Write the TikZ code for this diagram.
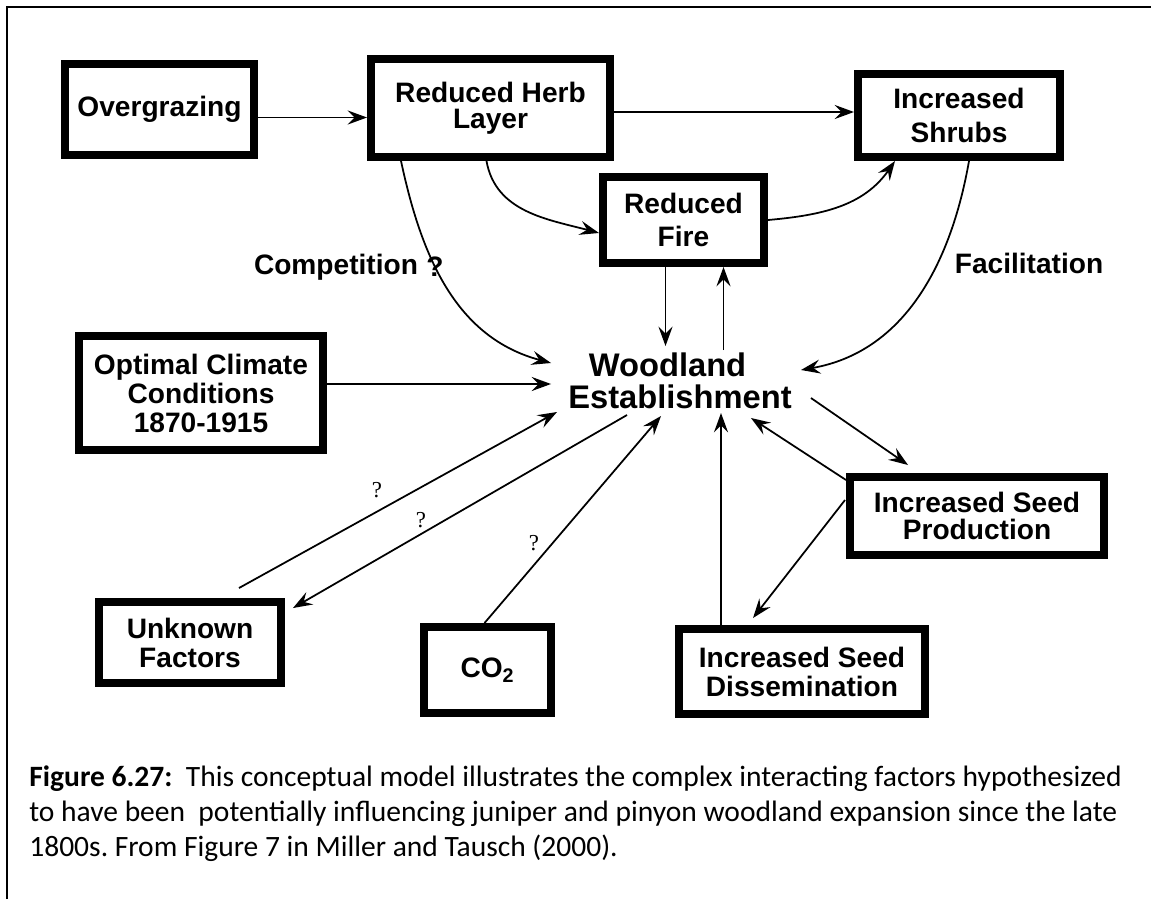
\documentclass[tikz,border=0pt]{standalone}
\usepackage{fontspec}
\setmainfont{Liberation Sans}
\newfontfamily\captionfont{Carlito}
\newfontfamily\queryfont{Liberation Serif}
\usetikzlibrary{arrows.meta,calc}

\begin{document}
\begin{tikzpicture}[
  x=0.02cm, y=0.02cm,
  factor/.style={draw, line width=0.16cm, align=center, inner sep=2pt,
    font=\bfseries\fontsize{16}{16.5}\selectfont},
  link/.style={line width=1pt, -{Stealth[length=11pt,width=8pt,inset=4pt]}},
  linklabel/.style={font=\bfseries\fontsize{16}{16.5}\selectfont},
  query/.style={font=\queryfont\fontsize{13}{13}\selectfont, inner sep=0pt},
]
\useasboundingbox (0,0) rectangle (1151,-899);

% Frame.
\draw[line width=1.2pt] (7,-899) -- (7,-7) -- (1151,-7);

% Factor boxes.
\node[factor, minimum width=3.78cm, minimum height=1.82cm] (over) at (159.5,-109.5) {Overgrazing};
\node[factor, minimum width=4.78cm, minimum height=1.96cm] (herb) at (490.5,-108) {Reduced Herb\\[-2pt]Layer};
\node[factor, minimum width=4.04cm, minimum height=1.66cm] (shrub) at (959,-115.5) {Increased\\[3pt]Shrubs};
\node[factor, minimum width=3.22cm, minimum height=1.72cm] (fire) at (683.5,-220) {Reduced\\[2pt]Fire};
\node[factor, minimum width=4.88cm, minimum height=2.28cm] (climate) at (201,-393) {Optimal Climate\\Conditions\\1870-1915};
\node[factor, minimum width=3.64cm, minimum height=1.62cm] (unknown) at (190,-642.5) {Unknown\\Factors};
\node[factor, minimum width=2.54cm, minimum height=1.72cm] (co2) at (487.5,-670) {CO\textsubscript{2}};
\node[factor, minimum width=5.08cm, minimum height=1.56cm] (seedprod) at (977,-516) {Increased Seed\\[-1.5pt]Production};
\node[factor, minimum width=4.92cm, minimum height=1.70cm] (seeddis) at (802,-671.5) {Increased Seed\\Dissemination};

% Centre of the model (no box).
\node[minimum width=5.16cm, minimum height=1.40cm, inner sep=0pt, outer sep=0pt, align=center,
  font=\bfseries\fontsize{18.6}{18.5}\selectfont] (wood) at (680,-381) {Woodland\hspace*{0.5cm}\\Establishment};

% Helper points on the box edges.
\coordinate (o1) at ($(over.east)+(0,-8)$);
\coordinate (h1) at ($(herb.east)+(0,-4)$);
\coordinate (c1) at ($(climate.east)+(0,9)$);
\coordinate (f1) at ($(fire.south)+(-18,0)$);
\coordinate (f2) at ($(fire.south)+(40,0)$);
\coordinate (d1) at ($(seeddis.north)+(-81,0)$);

% Top row.
\draw[link] (o1) -- (o1 -| herb.west);
\draw[link] (h1) -- (h1 -| shrub.west);
\draw[link] ($(herb.south)+(-4,0)$) to[out=-80,in=165] ($(fire.west)+(0,-13)$);
\draw[link] (fire.east) to[out=5,in=-125] ($(shrub.south)+(-64,0)$);

% Into and out of the woodland.
\draw[link] ($(herb.south west)+(34,0)$) to[out=-78,in=165] ($(wood.west)+(0,18)$);
\draw[link] ($(shrub.south)+(10,0)$) to[out=-100,in=10] ($(wood.east)+(-8,11)$);
\draw[link] (c1) -- (c1 -| wood.west);
\draw[link] (f1) -- (f1 |- wood.north);
\draw[link] ($(f2 |- wood.north)+(0,-4)$) -- (f2);

% Lower half.
\draw[link] ($(unknown.north)+(49,10)$) -- ($(wood.south west)+(6,4)$);
\draw[link] ($(wood.south west)+(76,1)$) -- ($(unknown.north east)+(8,-10)$);
\draw[link] ($(co2.north)+(-3,0)$) -- ($(wood.south)+(-19,0)$);
\draw[link] (d1) -- ($(d1 |- wood.south)+(0,3)$);
\draw[link] ($(seedprod.north west)+(0,-7)$) -- ($(wood.south east)+(-58,-2)$);
\draw[link] ($(wood.east)+(2,-17)$) -- ($(seedprod.north west)+(62,8)$);
\draw[link] ($(seedprod.west)+(-1,16)$) -- ($(seeddis.north)+(-49,7)$);

% Labels.
\node[linklabel] (comp) at (336,-267) {Competition};
\node[linklabel] (compq) at (435,-267) {?};
\node[linklabel] (facil) at (1029,-263) {Facilitation};
\node[query] (q1) at (377,-490) {?};
\node[query] (q2) at (421,-520) {?};
\node[query] (q3) at (534,-543) {?};

% Caption (base = last line).
\node[anchor=base west, align=left, inner sep=0pt,
  font=\captionfont\fontsize{16.8}{19.9}\selectfont\frenchspacing] (caption) at (29,-856)
  {\textbf{Figure 6.27:}\ \ This conceptual model illustrates the complex interacting factors hypothesized\\
   to have been\ \ potentially influencing juniper and pinyon woodland expansion since the late\\
   1800s. From Figure 7 in Miller and Tausch (2000).};

\end{tikzpicture}
\end{document}
